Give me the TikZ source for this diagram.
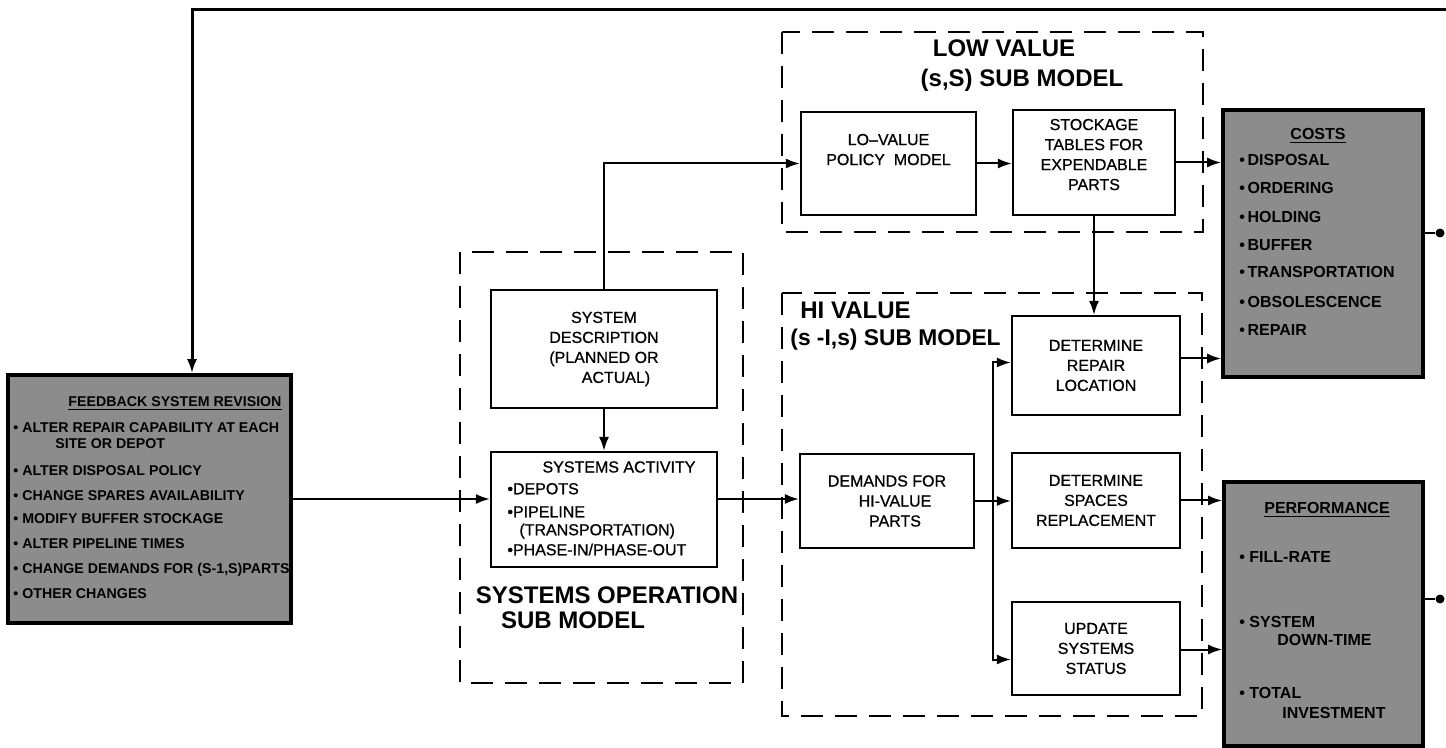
\documentclass[tikz,border=0pt]{standalone}
\usepackage{fontspec}
\setmainfont{Liberation Sans}
\newfontfamily\letterfont[FakeBold=0.8,Ligatures=TeX]{Liberation Sans}
\usetikzlibrary{arrows.meta,calc}

% font sizes used in the chart
\newcommand\boxfont{\letterfont\fontsize{8}{10}\selectfont}
\newcommand\grpfont{\bfseries\fontsize{12}{14}\selectfont}
\newcommand\fbfont{\bfseries\fontsize{7.1}{9}\selectfont}
\newcommand\outfont{\bfseries\fontsize{8}{10}\selectfont}

\begin{document}
\begin{tikzpicture}[x=0.5pt,y=-0.5pt,
  box/.style={draw,line width=1.1pt,inner sep=0pt,align=center,font=\boxfont},
  txt/.style={inner sep=0pt,font=\boxfont},
  grptxt/.style={inner sep=0pt,font=\grpfont},
  shaded/.style={draw,line width=1.8pt,fill=black!45,inner sep=0pt},
  fbtxt/.style={inner sep=0pt,font=\fbfont,anchor=mid west},
  outtxt/.style={inner sep=0pt,font=\outfont,anchor=mid west},
  group/.style={draw,line width=1.1pt,dash pattern=on 11pt off 6pt},
  arr/.style={line width=1pt,-{Latex[length=7pt,width=5pt]}},
  link/.style={line width=1pt},
  dotn/.style={circle,fill=black,inner sep=0pt,minimum size=4.5pt}]

\useasboundingbox (0,0) rectangle (1446,748);

% ---------- dashed sub-model frames ----------
\draw[group] (782,32) rectangle (1203,232);
\draw[group] (782,293) rectangle (1202,716);
\draw[group] (460,252) rectangle (743,683);

\node[grptxt] (lowA) at (1004,48) {LOW VALUE};
\node[grptxt] (lowB) at (1022,80) {(s,S) SUB MODEL};
\node[grptxt,anchor=mid west] (hiA) at (800,313) {HI VALUE};
\node[grptxt,anchor=mid west,font=\bfseries\fontsize{11.4}{14}\selectfont] (hiB) at (790,340) {(s -I,s) SUB MODEL};
\node[grptxt] (opA) at (607,595) {SYSTEMS OPERATION};
\node[grptxt] (opB) at (573,620) {SUB MODEL};

% ---------- feedback box ----------
\node[shaded,minimum width=141.5pt,minimum height=124pt] (fb) at (149.5,499) {};
\node[inner sep=0pt,font=\fbfont] (fbT) at (175,404) {\underline{FEEDBACK SYSTEM REVISION}};
\node[fbtxt] (fb1) at (13,427) {\textbullet\ ALTER REPAIR CAPABILITY AT EACH};
\node[fbtxt] (fb1b) at (55,443) {SITE OR DEPOT};
\node[fbtxt] (fb2) at (13,470) {\textbullet\ ALTER DISPOSAL POLICY};
\node[fbtxt] (fb3) at (13,495) {\textbullet\ CHANGE SPARES AVAILABILITY};
\node[fbtxt] (fb4) at (13,518) {\textbullet\ MODIFY BUFFER STOCKAGE};
\node[fbtxt] (fb5) at (13,543) {\textbullet\ ALTER PIPELINE TIMES};
\node[fbtxt] (fb6) at (13,568) {\textbullet\ CHANGE DEMANDS FOR (S-1,S)PARTS};
\node[fbtxt] (fb7) at (13,593) {\textbullet\ OTHER CHANGES};

% ---------- systems operation sub model ----------
\node[box,minimum width=113pt,minimum height=59pt] (sd) at (604,349)
  {SYSTEM\\DESCRIPTION\\(PLANNED OR\\\hspace*{1.5em}ACTUAL)};
\node[box,minimum width=113pt,minimum height=57.5pt] (sa) at (604,509.5) {};
\node[txt] (saT) at (619,467) {SYSTEMS ACTIVITY};
\node[txt,anchor=mid west] (sa1) at (507,489) {\textbullet DEPOTS};
\node[txt,anchor=mid west] (sa2) at (507,512) {\textbullet PIPELINE};
\node[txt,anchor=mid west] (sa3) at (519,530) {(TRANSPORTATION)};
\node[txt,anchor=mid west] (sa4) at (507,550) {\textbullet PHASE-IN/PHASE-OUT};

% ---------- low value sub model ----------
\node[box,minimum width=87.5pt,minimum height=51.5pt] (lv) at (888.5,163.5)
  {LO\textendash VALUE\\POLICY\ \ MODEL\\[4pt]};
\node[box,minimum width=81pt,minimum height=52.5pt] (st) at (1094,162.5)
  {STOCKAGE\\TABLES FOR\\EXPENDABLE\\PARTS\\[-2pt]};

% ---------- hi value sub model ----------
\node[box,minimum width=87pt,minimum height=47pt] (dm) at (887,501)
  {DEMANDS FOR\\\hspace*{1em}HI-VALUE\\\hspace*{1em}PARTS};
\node[box,minimum width=84pt,minimum height=49.5pt] (drl) at (1096,365.5)
  {DETERMINE\\REPAIR\\LOCATION};
\node[box,minimum width=84pt,minimum height=47.5pt] (dsr) at (1096,500.5)
  {DETERMINE\\SPACES\\REPLACEMENT};
\node[box,minimum width=84pt,minimum height=46.5pt] (us) at (1096,648.5)
  {UPDATE\\SYSTEMS\\STATUS};

% ---------- result boxes ----------
\node[shaded,minimum width=100pt,minimum height=133.5pt] (costs) at (1323,243.5) {};
\node[inner sep=0pt,font=\outfont] (cT) at (1318,136) {\underline{COSTS}};
\node[outtxt] (c1) at (1239,160) {\textbullet\,DISPOSAL};
\node[outtxt] (c2) at (1239,188) {\textbullet\,ORDERING};
\node[outtxt] (c3) at (1239,217) {\textbullet\,HOLDING};
\node[outtxt] (c4) at (1239,245) {\textbullet\,BUFFER};
\node[outtxt] (c5) at (1239,272) {\textbullet\,TRANSPORTATION};
\node[outtxt] (c6) at (1239,302) {\textbullet\,OBSOLESCENCE};
\node[outtxt] (c7) at (1239,330) {\textbullet\,REPAIR};

\node[shaded,minimum width=99.5pt,minimum height=132pt] (perf) at (1323.5,614) {};
\node[inner sep=0pt,font=\outfont] (pT) at (1327,510) {\underline{PERFORMANCE}};
\node[outtxt] (p1) at (1239,557) {\textbullet\ FILL-RATE};
\node[outtxt] (p2) at (1239,622) {\textbullet\ SYSTEM};
\node[outtxt] (p2b) at (1277,640) {DOWN-TIME};
\node[outtxt] (p3) at (1239,693) {\textbullet\ TOTAL};
\node[outtxt] (p3b) at (1282,713) {INVESTMENT};

% ---------- connectors ----------
\coordinate (topL) at (192,10);
\coordinate (topR) at (1446,10);
\draw[arr,line width=1.5pt] (topR) -- (topL) -- (topL |- fb.north);

\draw[arr] (fb.east) -- (fb.east -| sa.west);
\draw[arr] (sd.south) -- (sa.north);
\draw[arr] (sd.north) |- (lv.west);
\draw[arr] (lv.east) -- (lv.east -| st.west);
\draw[arr] (st.east) -- (st.east -| costs.west);
\draw[arr] (st.south) -- (st.south |- drl.north);
\draw[arr] (sa.east |- fb.east) -- (fb.east -| dm.west);
\draw[arr] (dm.east) -- (dm.east -| dsr.west);
\coordinate (bus) at ($(dm.east)!0.5!(dm.east -| dsr.west)$);
\draw[arr] (bus) |- ($(drl.west)+(0,-3)$);
\draw[arr] (bus) |- ($(us.west)+(0,11)$);
\draw[arr] ($(drl.east)+(0,-7)$) -- ($(drl.east -| costs.west)+(0,-7)$);
\draw[arr] (dsr.east) -- (dsr.east -| perf.west);
\draw[arr] ($(us.east)+(0,1)$) -- ($(us.east -| perf.west)+(0,1)$);

\node[dotn] (cdot) at (1440,233) {};
\node[dotn] (pdot) at (1440,599) {};
\draw[link] (costs.east |- cdot) -- (cdot);
\draw[link] (perf.east |- pdot) -- (pdot);

\end{tikzpicture}
\end{document}
